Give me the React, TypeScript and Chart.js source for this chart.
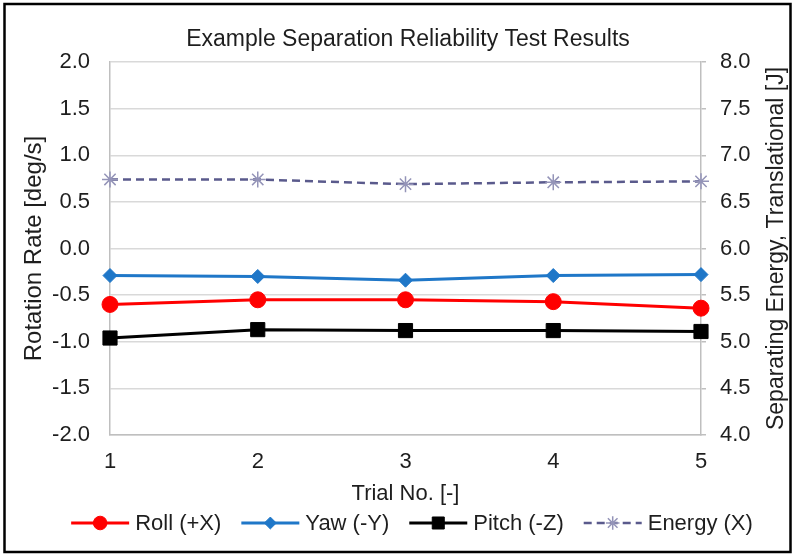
import React, { useEffect, useRef } from 'react';
import { Chart, registerables } from 'chart.js';
import { drawPoint } from 'chart.js/helpers';

Chart.register(...registerables);

const chartTitle = 'Example Separation Reliability Test Results';
const xTitle = 'Trial No. [-]';
const leftTitle = 'Rotation Rate [deg/s]';
const rightTitle = 'Separating Energy, Translational [J]';

const trials = ['1', '2', '3', '4', '5'];
const roll = [-0.6, -0.55, -0.55, -0.57, -0.64];
const yaw = [-0.29, -0.3, -0.34, -0.29, -0.28];
const pitch = [-0.96, -0.87, -0.88, -0.88, -0.89];
const energy = [6.74, 6.74, 6.69, 6.71, 6.72];

const leftRange = [-2, 2];
const rightRange = [4, 8];
const tickStep = 0.5;

const FONT = '"Liberation Sans", Arial, sans-serif';
const TEXT = '#1e1e1e';

const frameTitlePlugin = {
  id: 'frameTitle',
  afterDraw(chart: any) {
    const ctx = chart.ctx;
    const area = chart.chartArea;
    ctx.save();
    ctx.strokeStyle = '#000';
    ctx.lineWidth = 2.5;
    ctx.strokeRect(4.5, 4, 786, 548);
    ctx.fillStyle = TEXT;
    ctx.font = `23px ${FONT}`;
    ctx.textAlign = 'center';
    ctx.textBaseline = 'alphabetic';
    ctx.fillText(chartTitle, 408, 46);
    ctx.save();
    ctx.translate(777, (area.top + area.bottom) / 2);
    ctx.rotate(-Math.PI / 2);
    ctx.textBaseline = 'middle';
    ctx.fillText(rightTitle, 0, 0);
    ctx.restore();
    ctx.restore();
  },
};

const legendPlugin = {
  id: 'customLegend',
  afterDraw(chart: any) {
    const ctx = chart.ctx;
    const ds = chart.data.datasets;
    ctx.save();
    ctx.font = `22px ${FONT}`;
    const lineLen = 58;
    const textGap = 6;
    const itemGap = 20;
    const widths = ds.map((d: any) => lineLen + textGap + ctx.measureText(d.label).width);
    const total = widths.reduce((a: number, b: number) => a + b, 0) + itemGap * (ds.length - 1);
    let x = 412 - total / 2;
    const y = 523;
    ds.forEach((d: any, i: number) => {
      ctx.save();
      ctx.strokeStyle = d.borderColor;
      ctx.lineWidth = d.borderWidth;
      ctx.setLineDash(d.borderDash || []);
      ctx.beginPath();
      ctx.moveTo(x, y);
      ctx.lineTo(x + lineLen, y);
      ctx.stroke();
      ctx.restore();
      ctx.save();
      ctx.fillStyle = d.pointBackgroundColor;
      ctx.strokeStyle = d.pointBorderColor;
      ctx.lineWidth = d.pointBorderWidth;
      drawPoint(ctx, {
        pointStyle: d.pointStyle,
        radius: d.pointRadius * 0.85,
        rotation: 0,
        borderWidth: d.pointBorderWidth,
      } as any, x + lineLen / 2, y);
      ctx.restore();
      ctx.fillStyle = TEXT;
      ctx.textAlign = 'left';
      ctx.textBaseline = 'middle';
      ctx.fillText(d.label, x + lineLen + textGap, y + 1);
      x += widths[i] + itemGap;
    });
    ctx.restore();
  },
};

export default function App() {
  const ref = useRef<HTMLCanvasElement>(null);
  useEffect(() => {
    if (!ref.current) return;
    const chart = new Chart(ref.current, {
      type: 'line',
      data: {
        labels: trials,
        datasets: [
          {
            label: 'Roll (+X)',
            data: roll,
            yAxisID: 'y',
            borderColor: '#ff0000',
            backgroundColor: '#ff0000',
            borderWidth: 3,
            pointStyle: 'circle',
            pointRadius: 8,
            pointBackgroundColor: '#ff0000',
            pointBorderColor: '#ff0000',
            pointBorderWidth: 1,
            tension: 0,
          },
          {
            label: 'Yaw (-Y)',
            data: yaw,
            yAxisID: 'y',
            borderColor: '#1f77c8',
            backgroundColor: '#1f77c8',
            borderWidth: 3,
            pointStyle: 'rectRot',
            pointRadius: 7,
            pointBackgroundColor: '#1f77c8',
            pointBorderColor: '#1f77c8',
            pointBorderWidth: 1,
            tension: 0,
          },
          {
            label: 'Pitch (-Z)',
            data: pitch,
            yAxisID: 'y',
            borderColor: '#000000',
            backgroundColor: '#000000',
            borderWidth: 3,
            pointStyle: 'rect',
            pointRadius: 10,
            pointBackgroundColor: '#000000',
            pointBorderColor: '#000000',
            pointBorderWidth: 1,
            tension: 0,
          },
          {
            label: 'Energy (X)',
            data: energy,
            yAxisID: 'y2',
            borderColor: '#5a5a8c',
            backgroundColor: '#9494b8',
            borderWidth: 2.5,
            borderDash: [8, 5],
            pointStyle: 'star',
            pointRadius: 8,
            pointBackgroundColor: '#9494b8',
            pointBorderColor: '#9494b8',
            pointBorderWidth: 1.5,
            tension: 0,
          },
        ],
      },
      options: {
        responsive: false,
        animation: false,
        devicePixelRatio: 1,
        layout: { padding: { top: 62, bottom: 0, left: 0, right: 0 } },
        plugins: {
          legend: { display: false },
          title: { display: false },
          tooltip: { enabled: false },
        },
        scales: {
          x: {
            type: 'category',
            offset: false,
            grid: { display: true, drawOnChartArea: false, drawTicks: false },
            border: { display: true, color: '#bfbfbf', width: 1.5 },
            ticks: { color: TEXT, font: { family: FONT, size: 22 }, padding: 14, maxRotation: 0 },
            title: {
              display: true,
              text: xTitle,
              color: TEXT,
              font: { family: FONT, size: 22 },
              padding: { top: 0, bottom: 50 },
            },
            afterFit(scale: any) {
              scale.height = 557 - 435;
            },
          },
          y: {
            type: 'linear',
            position: 'left',
            min: leftRange[0],
            max: leftRange[1],
            grid: { color: '#d9d9d9', lineWidth: 1.5, drawTicks: false },
            border: { display: true, color: '#bfbfbf', width: 1.5 },
            ticks: {
              stepSize: tickStep,
              color: TEXT,
              font: { family: FONT, size: 22 },
              padding: 20,
              callback: (v: any) => Number(v).toFixed(1),
            },
            title: {
              display: true,
              text: leftTitle,
              color: TEXT,
              font: { family: FONT, size: 24 },
              padding: { top: 20, bottom: 0 },
            },
            afterFit(scale: any) {
              scale.width = 110;
            },
          },
          y2: {
            type: 'linear',
            position: 'right',
            min: rightRange[0],
            max: rightRange[1],
            grid: { drawOnChartArea: false, drawTicks: true, tickLength: 5, color: '#bfbfbf', lineWidth: 1.5 },
            border: { display: true, color: '#bfbfbf', width: 1.5 },
            ticks: {
              stepSize: tickStep,
              color: TEXT,
              font: { family: FONT, size: 22 },
              padding: 14,
              callback: (v: any) => Number(v).toFixed(1),
            },
            title: { display: false },
            afterFit(scale: any) {
              scale.width = 796 - 701;
            },
          },
        },
      },
      plugins: [frameTitlePlugin, legendPlugin],
    });
    return () => chart.destroy();
  }, []);
  return (
    <div style={{ position: 'absolute', left: 0, top: 0, width: 796, height: 557, background: '#fff' }}>
      <canvas ref={ref} width={796} height={557} style={{ width: 796, height: 557, display: 'block' }} />
    </div>
  );
}
